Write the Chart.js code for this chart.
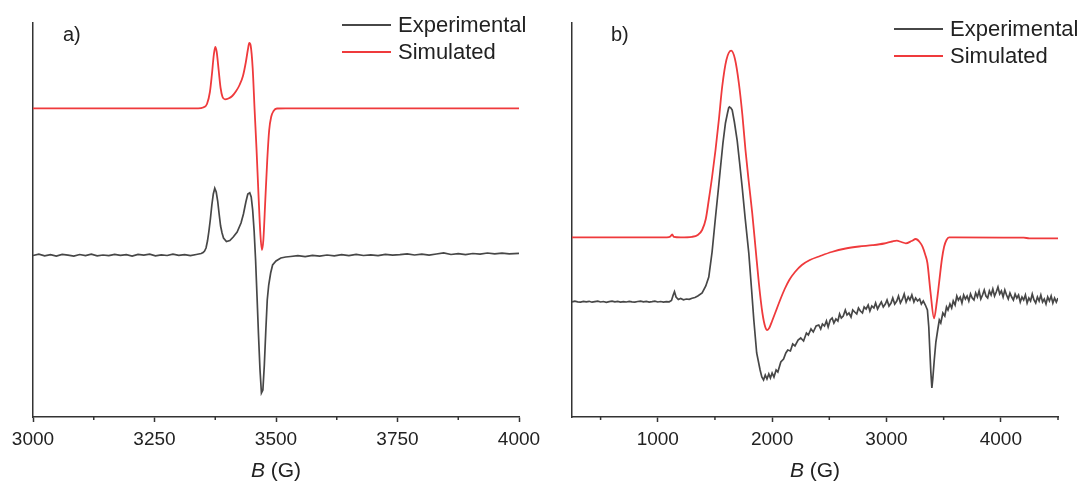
<!DOCTYPE html>
<html>
<head>
<meta charset="utf-8">
<script src="https://cdn.jsdelivr.net/npm/chart.js@4.4.1/dist/chart.umd.min.js"></script>
<style>
  body { margin: 0; background: #fff; }
  .panel { position: absolute; top: 0; height: 484px; }
</style>
</head>
<body>
<div class="panel" style="left:0;width:540px"><canvas id="chartA" width="540" height="484"></canvas></div>
<div class="panel" style="left:540px;width:539px"><canvas id="chartB" width="539" height="484"></canvas></div>
<script>
/* EPR spectra, panels a) and b) - intensity in arbitrary units */

const seriesNames = ['Experimental', 'Simulated'];

// panel a) [B (G), intensity]
const expA = [
  [3000,161.5],[3012,162.8],[3024,161.2],[3036,162.4],[3048,161.0],[3060,162.6],[3072,161.8],[3084,160.9],
  [3096,162.5],[3108,161.4],[3120,162.9],[3132,161.1],[3144,162.0],[3156,161.3],[3168,162.7],[3180,161.6],
  [3192,162.3],[3204,161.0],[3216,162.6],[3228,161.9],[3240,162.8],[3252,161.2],[3264,162.1],[3276,161.5],
  [3288,162.9],[3300,161.7],[3312,162.4],[3324,161.3],[3336,162.5],[3346,163.5],[3350,164.5],[3353,166],
  [3356,169],[3359,176],[3362,186],[3365,198],[3368,212],[3371,223],[3374,228.7],[3377,225],
  [3380,216],[3383,203],[3386,191],[3389,184],[3392,179],[3398,175.5],[3405,176.5],[3412,180],
  [3420,185],[3428,194],[3433,203],[3438,215],[3442,223],[3446,224.3],[3449,220],[3452,207],
  [3455,186],[3458,157],[3461,120],[3464,82],[3467,48],[3470,24],[3473,27],[3476,52],
  [3479,86],[3482,117],[3485,132],[3489,144],[3493,152],[3500,156],[3510,159],[3520,160],
  [3530,160.5],[3545,161.3],[3560,160.4],[3575,161.6],[3590,160.8],[3605,162.0],[3620,161.1],[3635,162.3],
  [3650,161.4],[3665,162.6],[3680,161.5],[3695,162.2],[3710,161.3],[3725,162.7],[3740,161.8],[3755,162.4],
  [3770,163.2],[3785,162.0],[3800,162.8],[3815,161.9],[3830,163.0],[3845,164.2],[3860,162.5],[3875,163.3],
  [3890,162.4],[3905,163.5],[3920,162.8],[3935,164.0],[3950,163.1],[3965,163.8],[3980,163.2],[4000,163.6]
];
const simA = [
  [3000,308.7],[3340,308.7],[3350,309.5],[3358,313],[3364,325],[3368,342],[3372,362],[3375,370],
  [3378,365],[3382,347],[3386,329],[3390,320],[3395,317.7],[3402,318.5],[3410,321],[3418,326],
  [3425,332],[3432,341],[3438,355],[3442,367],[3445,374],[3448,371],[3452,349],[3456,307],
  [3460,267],[3464,222],[3468,182],[3471,167],[3474,177],[3478,217],[3482,257],[3486,287],
  [3490,300],[3495,306],[3502,308.5],[3520,308.7],[4000,308.7]
];

// panel b) [B (G), intensity]
const expB = [
  [250,115.0],[275,115.8],[300,115.2],[325,114.9],[350,115.6],[375,115.1],[400,115.7],[425,114.8],
  [450,115.4],[475,115.9],[500,115.0],[525,115.5],[550,114.7],[575,115.3],[600,115.8],[625,115.1],
  [650,115.6],[675,114.9],[700,115.4],[725,115.0],[750,115.7],[775,115.2],[800,114.8],[825,115.5],
  [850,115.9],[875,115.1],[900,115.6],[925,114.9],[950,115.3],[975,115.8],[1000,115.0],[1025,115.5],
  [1050,114.8],[1075,115.4],[1100,115.2],[1120,116.5],[1135,122],[1146,125.3],[1160,120],[1180,117.5],
  [1200,118.5],[1225,117.2],[1250,118.0],[1275,117.6],[1300,118.8],[1325,119.5],[1350,121],[1388,124],
  [1420,131],[1446,140],[1475,165],[1505,200],[1530,228],[1549,250],[1570,274],[1592,294],
  [1610,304],[1620,309],[1627,310],[1640,309],[1651,307],[1670,295],[1694,277],[1715,255],
  [1738,230],[1765,198],[1796,164],[1820,128],[1840,97],[1865,64],[1895,47],[1910,40],
  [1925,37],[1940,42],[1955,38],[1971,43],[1985,39],[2000,44],[2016,40],[2035,47],
  [2050,45],[2076,55],[2100,58],[2120,64],[2137,67],[2160,66],[2180,73],[2200,71],
  [2227,77],[2250,79],[2275,76],[2300,84],[2317,82],[2340,88],[2360,85],[2385,91],
  [2408,92],[2425,88],[2440,93],[2458,91],[2475,96],[2490,90],[2508,97],[2525,99],
  [2540,94],[2558,98],[2575,96],[2590,103],[2605,99],[2622,101],[2640,107],[2655,102],
  [2672,104],[2690,100],[2705,107],[2722,105],[2740,103],[2755,109],[2772,106],[2790,104],
  [2805,110],[2822,108],[2840,112],[2855,106],[2872,111],[2890,109],[2905,114],[2922,108],
  [2940,112],[2955,115],[2972,110],[2990,113],[3005,117],[3022,111],[3040,114],[3055,119],
  [3072,113],[3090,116],[3105,121],[3122,114],[3140,118],[3155,123],[3172,115],[3190,120],
  [3205,117],[3222,122],[3240,115],[3255,119],[3272,116],[3290,118],[3305,113],[3322,116],
  [3340,112],[3358,107],[3370,90],[3379,67],[3388,45],[3397,29],[3405,38],[3418,57],
  [3432,75],[3448,87],[3462,97],[3475,94],[3493,104],[3510,101],[3525,110],[3538,107],
  [3555,113],[3570,109],[3584,116],[3600,112],[3615,121],[3629,117],[3645,120],[3660,114],
  [3675,122],[3690,118],[3705,121],[3720,116],[3735,123],[3750,119],[3765,117],[3780,124],
  [3795,120],[3810,126],[3825,118],[3840,122],[3855,127],[3870,121],[3885,119],[3900,126],
  [3915,122],[3930,128],[3945,121],[3960,125],[3975,130],[3990,123],[4005,126],[4020,120],
  [4035,127],[4050,122],[4065,118],[4080,124],[4095,120],[4110,117],[4125,123],[4140,119],
  [4155,122],[4170,115],[4185,120],[4200,117],[4215,122],[4230,114],[4245,119],[4260,116],
  [4275,123],[4290,117],[4305,114],[4320,120],[4335,116],[4350,122],[4365,115],[4380,118],
  [4395,113],[4410,120],[4425,116],[4440,121],[4455,114],[4470,119],[4485,115],[4500,119]
];
const simB = [
  [250,179.7],[1080,179.7],[1110,180.5],[1126,182.7],[1140,180.2],[1200,179.7],[1300,180.2],[1350,182],
  [1388,187],[1420,198],[1446,217],[1475,240],[1505,267],[1535,298],[1563,330],[1600,357],
  [1642,366.3],[1675,358],[1709,334],[1740,302],[1767,267],[1796,235],[1826,204],[1855,169],
  [1884,134],[1915,104],[1940,90],[1957,87],[1975,89],[2000,96],[2030,105],[2070,117],
  [2110,128],[2150,137],[2200,145],[2260,152],[2330,157],[2420,161],[2520,165],[2643,168.5],
  [2760,170.5],[2877,171.8],[2980,173.5],[3050,175.5],[3090,176.3],[3130,175],[3169,173.7],[3220,176],
  [3256,178],[3290,175],[3315,170.3],[3340,162],[3358,154],[3385,125],[3416,98.7],[3440,115],
  [3460,134],[3485,158],[3504,170.3],[3525,177],[3548,179.7],[3600,179.7],[4200,179.3],[4250,178.7],
  [4500,178.7]
];

// tick labels
const ticksA = [3000, 3250, 3500, 3750, 4000];
const minorA = [3125, 3375, 3625, 3875];
const ticksB = [1000, 2000, 3000, 4000];
const minorB = [500, 1500, 2500, 3500, 4500];

const expColor = '#474747';
const simColor = '#ef3a3c';
const axisColor = '#333';
const textColor = '#222';
const fontFamily = '"Liberation Sans", Arial, Helvetica, sans-serif';

Chart.defaults.font.family = fontFamily;
Chart.defaults.color = textColor;

function toXY(pairs) {
  return pairs.map(p => ({ x: p[0], y: p[1] }));
}

// draws minor ticks, panel letter, legend and the B (G) title
function decor(opts) {
  return {
    id: 'decor',
    afterDraw(chart) {
      const ctx = chart.ctx;
      const xs = chart.scales.x;
      const area = chart.chartArea;
      ctx.save();

      ctx.strokeStyle = axisColor;
      ctx.lineWidth = 1.5;
      opts.minor.forEach(v => {
        const px = xs.getPixelForValue(v);
        ctx.beginPath();
        ctx.moveTo(px, area.bottom);
        ctx.lineTo(px, area.bottom + 3);
        ctx.stroke();
      });

      ctx.fillStyle = textColor;
      ctx.textBaseline = 'middle';
      ctx.textAlign = 'left';
      ctx.font = '20px ' + fontFamily;
      ctx.fillText(opts.label, opts.labelX, 35);

      // legend
      ctx.font = '22px ' + fontFamily;
      chart.data.datasets.forEach((ds, i) => {
        const y = opts.legendY + i * 27;
        ctx.strokeStyle = ds.borderColor;
        ctx.lineWidth = 1.8;
        ctx.beginPath();
        ctx.moveTo(opts.legendX, y);
        ctx.lineTo(opts.legendX + 49, y);
        ctx.stroke();
        ctx.fillText(ds.label, opts.legendX + 56, y + 1);
      });

      // axis title
      const cx = (area.left + area.right) / 2;
      ctx.font = 'italic 21px ' + fontFamily;
      const wB = ctx.measureText('B').width;
      ctx.font = '21px ' + fontFamily;
      const wG = ctx.measureText(' (G)').width;
      const x0 = cx - (wB + wG) / 2;
      ctx.font = 'italic 21px ' + fontFamily;
      ctx.fillText('B', x0, 471);
      ctx.font = '21px ' + fontFamily;
      ctx.fillText(' (G)', x0 + wB, 471);

      ctx.restore();
    }
  };
}

function makeChart(id, exp, sim, xMin, xMax, majors, opts) {
  return new Chart(document.getElementById(id), {
    type: 'line',
    data: {
      datasets: [
        { label: seriesNames[0], data: toXY(exp), borderColor: expColor, borderWidth: 1.7, tension: 0 },
        { label: seriesNames[1], data: toXY(sim), borderColor: simColor, borderWidth: 1.8,
          cubicInterpolationMode: 'monotone' }
      ]
    },
    options: {
      responsive: false,
      animation: false,
      devicePixelRatio: 1,
      layout: { padding: { left: opts.padLeft, right: opts.padRight, top: 23, bottom: 0 } },
      elements: {
        point: { radius: 0 },
        line: { fill: false }
      },
      plugins: { legend: { display: false }, tooltip: { enabled: false } },
      scales: {
        x: {
          type: 'linear',
          min: xMin,
          max: xMax,
          afterBuildTicks: s => { s.ticks = majors.map(v => ({ value: v })); },
          afterFit: s => { s.height = 67; s.paddingLeft = 0; s.paddingRight = 0; },
          grid: { display: true, drawOnChartArea: false, tickLength: 5, tickColor: axisColor, tickWidth: 1.5 },
          border: { display: true, color: axisColor, width: 1.5 },
          ticks: { font: { size: 19 }, color: textColor, padding: 6, maxRotation: 0, autoSkip: false,
                   callback: v => String(v) }
        },
        y: {
          min: 0,
          max: 394,
          afterFit: s => { s.width = 0; },
          grid: { display: false },
          border: { display: true, color: axisColor, width: 1.5 },
          ticks: { display: false }
        }
      }
    },
    plugins: [decor(opts)]
  });
}

makeChart('chartA', expA, simA, 3000, 4000, ticksA,
  { minor: minorA, label: 'a)', labelX: 63, legendX: 342, legendY: 25, padLeft: 33, padRight: 21 });
makeChart('chartB', expB, simB, 250, 4500, ticksB,
  { minor: minorB, label: 'b)', labelX: 71, legendX: 354, legendY: 29, padLeft: 32, padRight: 21 });
</script>
</body>
</html>
